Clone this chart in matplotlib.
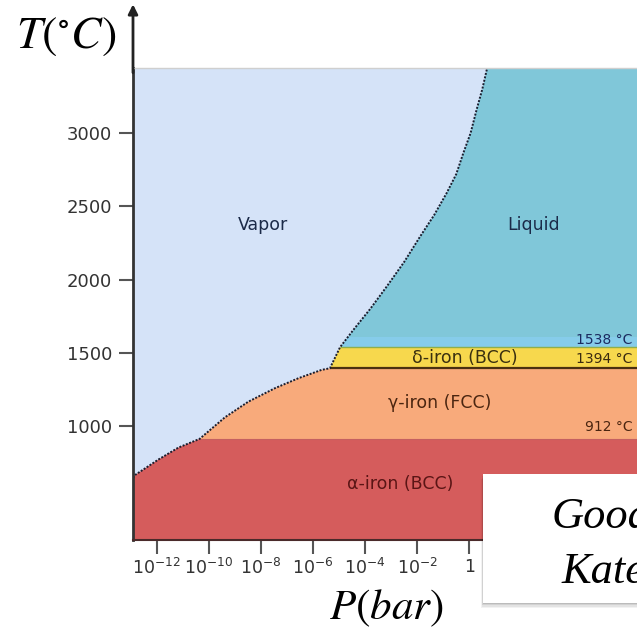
import numpy as np
import matplotlib
matplotlib.use("Agg")
import matplotlib.pyplot as plt
from matplotlib.patches import Rectangle

plt.rcParams["mathtext.fontset"] = "stix"
plt.rcParams["font.family"] = ["DejaVu Sans"]

# ---- data -------------------------------------------------------------
# phase boundary (log10 pressure in bar, temperature in deg C)
# solid / vapour boundary (alpha -> gamma -> delta)
solid_logp = [-12.91, -12.83, -11.94, -11.17, -10.35, -9.38, -8.48, -7.46, -6.56, -5.67, -5.35, -4.96]
solid_t = [645, 665, 770, 852, 912, 1059, 1166, 1258, 1326, 1383, 1394, 1538]
# liquid / vapour boundary
liquid_logp = [-4.96, -4.45, -3.80, -3.17, -2.50, -1.89, -1.35, -0.87, -0.50, -0.23, 0.05, 0.28, 0.50, 0.67, 0.70]
liquid_t = [1538, 1656, 1800, 1952, 2120, 2293, 2440, 2590, 2720, 2863, 3000, 3159, 3300, 3432, 3445]

# transition temperatures (deg C)
t_alpha_gamma = 912
t_gamma_delta = 1394
t_melt = 1538
t_melt_band_top = 1610

# axis extents
logp_min, logp_max = -12.91, 6.44
t_min, t_max = 221, 3445

ytick_vals = [1000, 1500, 2000, 2500, 3000]
xtick_exps = [-12, -10, -8, -6, -4, -2, 0]

phase_names = ["Vapor", "Liquid", "δ-iron (BCC)", "γ-iron (FCC)", "α-iron (BCC)"]
phase_pos = [(-7.92, 2373), (2.45, 2373), (-0.17, 1466), (-1.13, 1157), (-2.66, 604)]
temp_labels = ["1538 °C", "1394 °C", "912 °C"]
temp_label_t = [1585, 1458, 993]

# ---- colours ----------------------------------------------------------
c_vapor = "#d5e3f8"
c_liquid = "#80c7d9"
c_melt_band = "#86ccea"
c_delta = "#f7d84d"
c_gamma = "#f8aa7b"
c_alpha = "#d55c5c"

fig = plt.figure(figsize=(6.37, 6.28), dpi=100)
W, H = 637, 628
ax = fig.add_axes([133 / W, (H - 540) / H, (W - 133) / W, (540 - 68) / H])
ax.set_xscale("log")
xmin, xmax = 10 ** logp_min, 10 ** logp_max
ax.set_xlim(xmin, xmax)
ax.set_ylim(t_min, t_max)

# horizontal phase bands
ax.axhspan(t_min, t_alpha_gamma, color=c_alpha, lw=0, zorder=1)
ax.axhspan(t_alpha_gamma, t_gamma_delta, color=c_gamma, lw=0, zorder=1)
ax.axhspan(t_gamma_delta, t_melt, color=c_delta, lw=0, zorder=1)
ax.axhspan(t_melt, t_melt_band_top, color=c_melt_band, lw=0, zorder=1)
ax.axhspan(t_melt_band_top, t_max, color=c_liquid, lw=0, zorder=1)

# phase lines
ax.hlines(t_gamma_delta, 10 ** solid_logp[10], xmax, color="#4a3010", lw=1.6, zorder=2)
ax.hlines(t_melt, 10 ** solid_logp[-1], xmax, color="#8fae4a", lw=1.0, zorder=2)
ax.hlines(t_alpha_gamma, 10 ** solid_logp[4], xmax, color="#c56060", lw=0.8, zorder=2)

# vapour region (left of the boundary)
bnd_logp = np.array(solid_logp + liquid_logp[1:])
bnd_t = np.array(solid_t + liquid_t[1:])
vx = np.concatenate([[logp_min], bnd_logp, [logp_min]])
vy = np.concatenate([[bnd_t[0]], bnd_t, [t_max]])
ax.fill(10 ** vx, vy, color=c_vapor, lw=0, zorder=3)
ax.plot(10 ** bnd_logp, bnd_t, color="#1a1d2e", lw=1.4, ls=(0, (1.0, 0.8)), zorder=4)

# labels
for name, (lp, t) in zip(phase_names, phase_pos):
    col = "#1b2a48"
    if "α" in name:
        col = "#5a1515"
    elif "γ" in name:
        col = "#4a2510"
    elif "δ" in name:
        col = "#3a3010"
    ax.text(10 ** lp, t, name, ha="center", va="center", fontsize=12.5, color=col, zorder=5)
for lab, t, col in zip(temp_labels, temp_label_t, ["#1b2a60", "#3a2a10", "#4a2510"]):
    ax.text(10 ** 6.28, t, lab, ha="right", va="center", fontsize=10, color=col, zorder=5)

# axes styling
ax.spines["right"].set_visible(False)
ax.spines["top"].set_color("#cfcfcf")
ax.spines["top"].set_linewidth(1.0)
ax.spines["left"].set_color("#333333")
ax.spines["left"].set_linewidth(2.0)
ax.spines["bottom"].set_color("#4a2a2a")
ax.spines["bottom"].set_linewidth(1.5)
for sp in ax.spines.values():
    sp.set_zorder(6)

ax.set_yticks(ytick_vals)
ax.set_yticklabels([str(v) for v in ytick_vals])
ax.set_xticks([10.0 ** e for e in xtick_exps])
ax.set_xticklabels([r"$\mathregular{1}$" if e == 0 else r"$\mathregular{10^{%d}}$" % e for e in xtick_exps])
ax.minorticks_off()
ax.tick_params(axis="y", length=10, width=1.5, color="#555555", labelsize=13, labelcolor="#333333", pad=5)
ax.tick_params(axis="x", length=10, width=1.5, color="#555555", labelsize=12.5, labelcolor="#333333", pad=3)

# vertical axis arrow
ax.annotate("", xy=(0, 1.135), xycoords="axes fraction", xytext=(0, 0.99),
            arrowprops=dict(arrowstyle="-|>", color="#222222", lw=2.0, mutation_scale=14,
                            shrinkA=0, shrinkB=0), annotation_clip=False, zorder=7)

fig.text(66 / W, 1 - 36 / H, r"$T(^{\circ}C)$", fontsize=33, ha="center", va="center")
fig.text(386 / W, 1 - 608 / H, r"$P(bar)$", fontsize=31, ha="center", va="center")

# caption card with soft shadow
bx0, by0, bw, bh = 483 / W, (H - 603) / H, 200 / W, 129 / H
for i, a in enumerate([0.05, 0.06, 0.08, 0.10]):
    off = (4 - i) * 1.2
    fig.patches.append(Rectangle((bx0 - off * 0.4 / W, by0 - off / H), bw, bh,
                                 transform=fig.transFigure, color="black", alpha=a, lw=0, zorder=8))
fig.patches.append(Rectangle((bx0, by0), bw, bh, transform=fig.transFigure,
                             facecolor="white", edgecolor="none", zorder=9))
fig.text(552 / W, 1 - 528 / H, "Good", fontsize=32, family="Liberation Serif",
         style="italic", ha="left", va="baseline", zorder=10)
fig.text(562 / W, 1 - 583 / H, "Kate", fontsize=32, family="Liberation Serif",
         style="italic", ha="left", va="baseline", zorder=10)

fig.savefig("out.png", dpi=100)
